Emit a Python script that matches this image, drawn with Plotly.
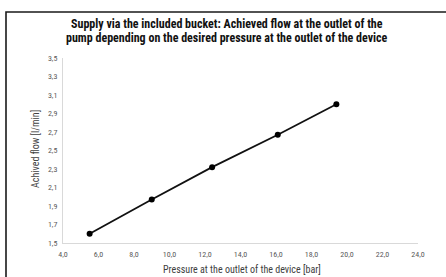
import plotly.graph_objects as go

pressure = [5.5, 9.0, 12.4, 16.1, 19.4]
flow = [1.60, 1.97, 2.32, 2.67, 3.00]

title_lines = ["Supply via the included bucket: Achieved flow at the outlet of the",
               "pump depending on the desired pressure at the outlet of the device"]
x_title = "Pressure at the outlet of the device [bar]"
y_title = "Achived flow [l/min]"

W, H = 446, 277
L, R, T, B = 63, 28, 58, 34
pw, ph = W - L - R, H - T - B

def px_x(p):
    return (p - L) / pw

def px_y(p):
    return (H - B - p) / ph

font_main = "Liberation Sans Narrow, Roboto Condensed, DejaVu Sans Condensed, Roboto, sans-serif"

fig = go.Figure()
fig.add_trace(go.Scatter(
    x=pressure, y=flow, mode="lines+markers",
    line=dict(color="#111111", width=1.8),
    marker=dict(color="#000000", size=6),
    showlegend=False,
))

annotations = []
for i, (line, ypx) in enumerate(zip(title_lines, [24, 38])):
    annotations.append(dict(
        text=f"<b>{line}</b>", xref="paper", yref="paper",
        x=px_x(227), y=px_y(ypx), xanchor="center", yanchor="middle",
        showarrow=False, font=dict(size=12, color="#111111")))
annotations += [
    dict(text=x_title, xref="paper", yref="paper",
         x=px_x(242), y=px_y(269), xanchor="center", yanchor="middle",
         showarrow=False, font=dict(size=10, color="#404040")),
    dict(text=y_title, xref="paper", yref="paper",
         x=px_x(35), y=px_y(149), xanchor="center", yanchor="middle",
         textangle=-90, showarrow=False, font=dict(size=10, color="#404040")),
]

fig.update_layout(
    width=W, height=H,
    margin=dict(l=L, r=R, t=T, b=B),
    paper_bgcolor="white", plot_bgcolor="white",
    separators=",.",
    font=dict(family=font_main, color="#595959", size=8),
    xaxis=dict(
        range=[4, 24], dtick=2, tick0=4, tickformat=".1f",
        showgrid=False, zeroline=False,
        showline=True, linecolor="#d9d9d9", linewidth=1,
        ticks="", ticklabelstandoff=3,
        tickfont=dict(size=8, color="#595959"),
    ),
    yaxis=dict(
        range=[1.5, 3.5], dtick=0.2, tick0=1.5, tickformat=".1f",
        showgrid=False, zeroline=False,
        showline=True, linecolor="#d9d9d9", linewidth=1,
        ticks="", ticklabelstandoff=3,
        tickfont=dict(size=8, color="#595959"),
    ),
    annotations=annotations,
    shapes=[
        dict(type="rect", xref="paper", yref="paper",
             x0=px_x(6), x1=px_x(448), y0=px_y(282), y1=px_y(12),
             line=dict(color="#1a1a1a", width=1.6), fillcolor="rgba(0,0,0,0)", layer="above"),
    ],
)

fig.write_html("out.html",
               config={"displayModeBar": False},
               post_script="document.body.style.margin='0';document.body.style.overflow='hidden';")
